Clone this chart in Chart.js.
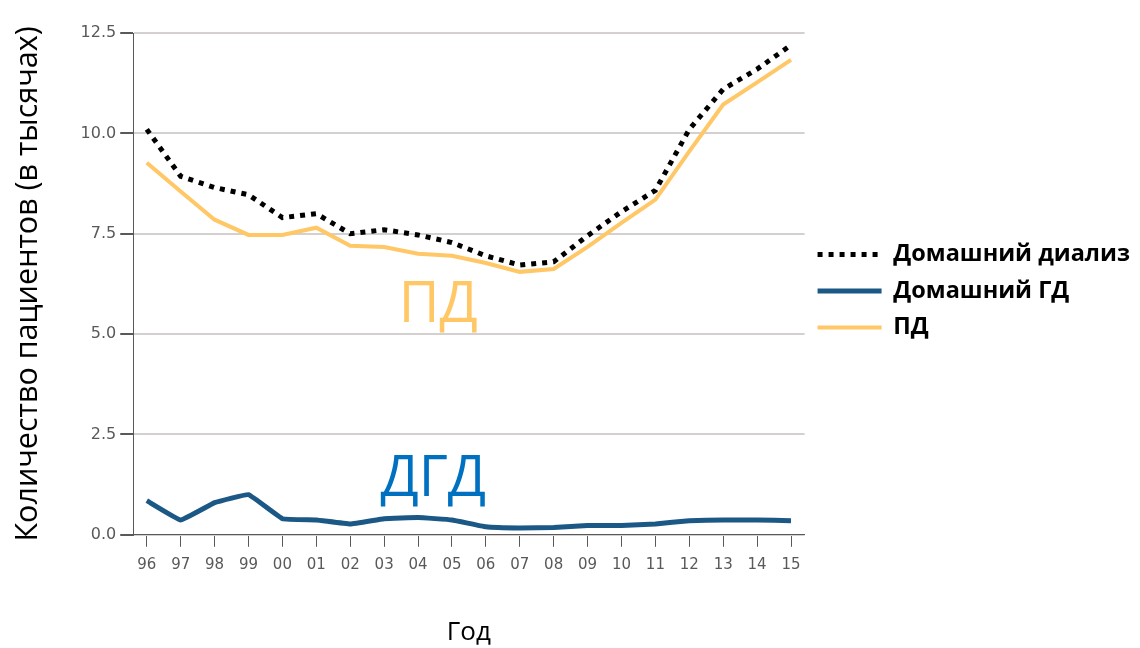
<!DOCTYPE HTML>
<html>
<head>
  <meta charset="UTF-8">
  <script src="https://cdn.jsdelivr.net/npm/chart.js"></script>
  <style>
    html, body {
      margin: 0;
      padding: 0;
      background: #ffffff;
    }
  </style>
</head>
<body>
  <canvas id="dialysisChart" width="1140" height="648"></canvas>

<script>
  // years (two-digit labels as on the axis)
  const years = ['96', '97', '98', '99', '00', '01', '02', '03', '04', '05',
                 '06', '07', '08', '09', '10', '11', '12', '13', '14', '15'];

  // patients, thousands
  const homeDialysis = [10.1, 8.93, 8.65, 8.47, 7.9, 8.0, 7.5, 7.6, 7.47, 7.28,
                        6.95, 6.72, 6.8, 7.45, 8.05, 8.58, 10.1, 11.1, 11.6, 12.2];
  const homeHD = [0.85, 0.37, 0.8, 1.0, 0.4, 0.37, 0.27, 0.4, 0.43, 0.37,
                  0.2, 0.17, 0.18, 0.23, 0.23, 0.27, 0.35, 0.37, 0.37, 0.35];
  const pd = [9.27, 8.55, 7.85, 7.47, 7.47, 7.65, 7.2, 7.17, 7.0, 6.95,
              6.77, 6.55, 6.62, 7.17, 7.77, 8.35, 9.55, 10.72, 11.27, 11.83];

  const seriesNames = ['Домашний диализ', 'Домашний ГД', 'ПД'];
  const yTicks = [0, 2.5, 5, 7.5, 10, 12.5];

  // year index -> point
  const toPoints = values => values.map((v, i) => ({ x: i, y: v }));

  // big coloured labels inside the plot
  const inlineLabels = {
    id: 'inlineLabels',
    afterDatasetsDraw(chart) {
      const ctx = chart.ctx;
      const x = chart.scales.x;
      const y = chart.scales.y;
      ctx.save();
      ctx.font = '56px "Open Sans", sans-serif';
      ctx.textAlign = 'center';
      ctx.textBaseline = 'alphabetic';
      ctx.fillStyle = '#FFC766';
      ctx.fillText('ПД', x.getPixelForValue(8.6), y.getPixelForValue(5.3));
      ctx.fillStyle = '#0070C0';
      ctx.fillText('ДГД', x.getPixelForValue(8.45), y.getPixelForValue(0.97));
      ctx.restore();
    }
  };

  const ctx = document.getElementById('dialysisChart').getContext('2d');
  const chart = new Chart(ctx, {
    type: 'line',
    data: {
      datasets: [{
        label: seriesNames[0],
        data: toPoints(homeDialysis),
        borderColor: '#000000',
        borderWidth: 5,
        borderDash: [5, 6],
        pointRadius: 0,
        tension: 0
      }, {
        label: seriesNames[1],
        data: toPoints(homeHD),
        borderColor: '#1B5886',
        borderWidth: 5,
        borderJoinStyle: 'round',
        pointRadius: 0,
        tension: 0.08
      }, {
        label: seriesNames[2],
        data: toPoints(pd),
        borderColor: '#FFC766',
        borderWidth: 4,
        pointRadius: 0,
        tension: 0
      }]
    },
    options: {
      responsive: false,
      animation: false,
      layout: {
        padding: { left: 10, top: 33, right: 0, bottom: 0 }
      },
      plugins: {
        tooltip: { enabled: false },
        legend: {
          position: 'right',
          fullSize: false,
          maxWidth: 360,
          title: {
            display: true,
            text: '',
            padding: 1,
            font: { size: 10 }
          },
          labels: {
            usePointStyle: true,
            pointStyle: 'line',
            pointStyleWidth: 64,
            boxHeight: 14,
            padding: 13,
            color: '#000000',
            font: { family: '"Open Sans", sans-serif', size: 23.5, weight: 'bold' },
            generateLabels(chart) {
              // keep the dash and width of each line in the legend sample
              const items = Chart.defaults.plugins.legend.labels.generateLabels(chart);
              items.forEach(item => {
                const ds = chart.data.datasets[item.datasetIndex];
                item.lineDash = ds.borderDash || [];
                item.lineWidth = ds.borderWidth;
                item.strokeStyle = ds.borderColor;
                item.lineCap = 'butt';
              });
              return items;
            }
          }
        }
      },
      scales: {
        x: {
          type: 'linear',
          min: -0.4,
          max: years.length - 0.6,
          afterBuildTicks(axis) {
            axis.ticks = years.map((_, i) => ({ value: i }));
          },
          grid: {
            drawOnChartArea: false,
            color: '#595959',
            tickLength: 12
          },
          border: { color: '#595959', width: 1 },
          ticks: {
            color: '#595959',
            padding: 9,
            maxRotation: 0,
            autoSkip: false,
            callback: v => years[v],
            font: { family: '"DejaVu Sans", sans-serif', size: 15 }
          },
          title: {
            display: true,
            text: 'Год',
            color: '#000000',
            padding: { top: 34, bottom: 0 },
            font: { family: '"Open Sans", sans-serif', size: 26 }
          }
        },
        y: {
          min: 0,
          max: 12.5,
          afterBuildTicks(axis) {
            axis.ticks = yTicks.map(v => ({ value: v }));
          },
          grid: {
            color: '#D4D0CF',
            lineWidth: 2,
            tickColor: '#595959',
            tickLength: 13
          },
          border: { color: '#595959', width: 1 },
          ticks: {
            color: '#595959',
            padding: 4,
            callback: v => v.toFixed(1),
            font: { family: '"DejaVu Sans", sans-serif', size: 16 }
          },
          title: {
            display: true,
            text: 'Количество пациентов (в тысячах)',
            color: '#000000',
            padding: { top: 0, bottom: 30 },
            font: { family: '"Open Sans", sans-serif', size: 30.5 }
          }
        }
      }
    },
    plugins: [inlineLabels]
  });
</script>
</body>
</html>
